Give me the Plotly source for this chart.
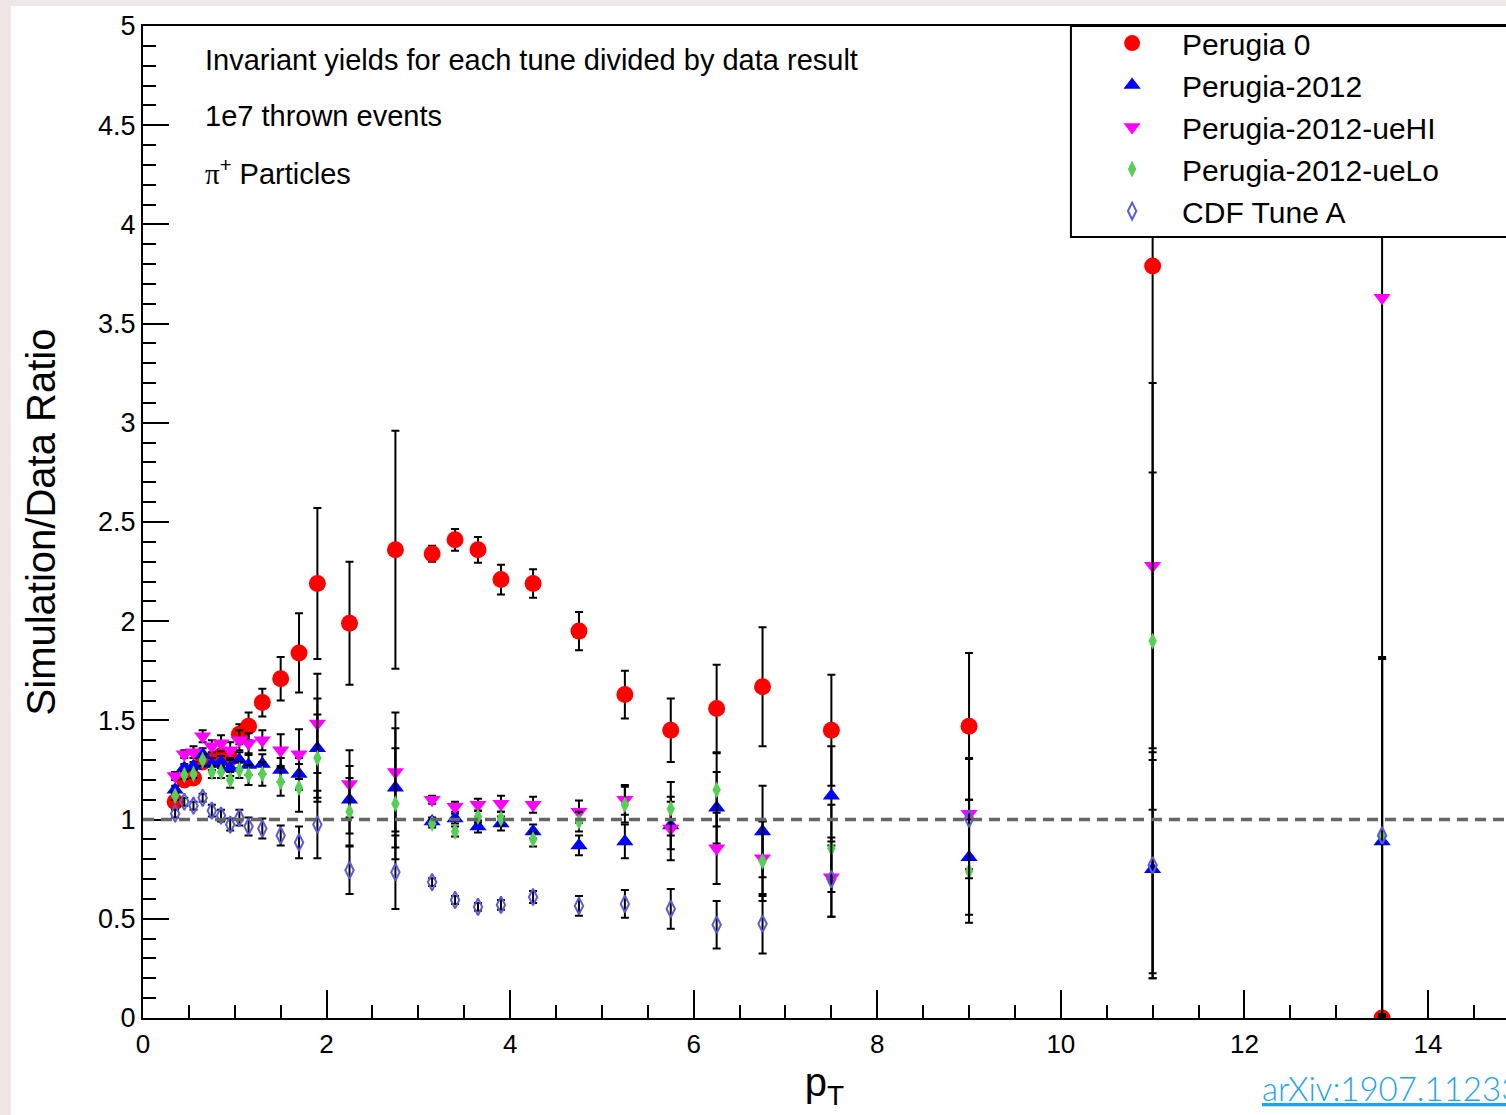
import plotly.graph_objects as go

# ---------------- data ----------------
pt = [0.35, 0.45, 0.55, 0.65, 0.75, 0.85, 0.95, 1.05, 1.15, 1.3, 1.5, 1.7, 1.9, 2.25,
      2.75, 3.15, 3.4, 3.65, 3.9, 4.25, 4.75, 5.25, 5.75, 6.25, 6.75, 7.5, 9, 11, 13.5]

perugia0 = [1.09, 1.20, 1.21, 1.29, 1.30, 1.32, 1.31, 1.43, 1.47, 1.59, 1.71, 1.84, 2.19, 1.99,
            2.36, 2.34, 2.41, 2.36, 2.21, 2.19, 1.95, 1.63, 1.45, 1.56, 1.67, 1.45, 1.47, 3.79, 0.0]
perugia0_err = [0.02, 0.02, 0.02, 0.03, 0.03, 0.03, 0.04, 0.05, 0.07, 0.07, 0.11, 0.20, 0.38, 0.31,
                0.60, 0.04, 0.055, 0.065, 0.075, 0.072, 0.097, 0.12, 0.16, 0.22, 0.30, 0.28, 0.37, 3.565, 0.0]

perugia2012 = [1.15, 1.26, 1.27, 1.33, 1.28, 1.29, 1.26, 1.30, 1.275, 1.28, 1.25, 1.23, 1.36, 1.10,
               1.16, 0.99, 1.005, 0.965, 0.98, 0.94, 0.87, 0.89, 0.97, 1.06, 0.94, 1.12, 0.81, 0.75, 0.89]
perugia2012_err = [0.02, 0.02, 0.02, 0.03, 0.03, 0.03, 0.04, 0.04, 0.05, 0.05, 0.06, 0.08, 0.25, 0.17,
                   0.30, 0.02, 0.025, 0.03, 0.035, 0.035, 0.05, 0.085, 0.12, 0.18, 0.23, 0.25, 0.29, 0.55, 0.92]

uehi = [1.22, 1.33, 1.34, 1.42, 1.37, 1.385, 1.35, 1.40, 1.385, 1.40, 1.35, 1.33, 1.485, 1.18,
        1.24, 1.10, 1.065, 1.075, 1.08, 1.075, 1.04, 1.10, 0.955, 0.855, 0.805, 0.71, 1.03, 2.28, 3.63]
uehi_err = [0.02, 0.02, 0.03, 0.03, 0.03, 0.04, 0.04, 0.05, 0.05, 0.05, 0.08, 0.125, 0.25, 0.17,
            0.30, 0.02, 0.025, 0.03, 0.04, 0.04, 0.056, 0.075, 0.16, 0.18, 0.19, 0.20, 0.28, 0.92, 3.63]

uelo = [1.12, 1.225, 1.23, 1.30, 1.24, 1.24, 1.20, 1.25, 1.225, 1.23, 1.19, 1.16, 1.31, 1.04,
        1.08, 0.98, 0.94, 1.015, 1.005, 0.90, 0.99, 1.075, 1.055, 1.15, 0.79, 0.855, 0.74, 1.90, 0.91]
uelo_err = [0.02, 0.02, 0.02, 0.03, 0.03, 0.03, 0.04, 0.04, 0.05, 0.06, 0.07, 0.12, 0.22, 0.17,
            0.28, 0.02, 0.025, 0.03, 0.035, 0.035, 0.05, 0.09, 0.135, 0.185, 0.20, 0.22, 0.26, 0.85, 0.90]

cdfa = [1.03, 1.09, 1.07, 1.11, 1.045, 1.02, 0.975, 1.01, 0.965, 0.955, 0.92, 0.885, 0.975, 0.745,
        0.735, 0.685, 0.595, 0.56, 0.57, 0.61, 0.565, 0.575, 0.55, 0.47, 0.475, 0.70, 1.005, 0.77, 0.92]
cdfa_err = [0.02, 0.02, 0.02, 0.02, 0.03, 0.03, 0.03, 0.04, 0.045, 0.05, 0.05, 0.08, 0.17, 0.12,
            0.185, 0.02, 0.02, 0.02, 0.025, 0.03, 0.05, 0.07, 0.10, 0.12, 0.15, 0.19, 0.30, 0.57, 0.90]

series_names = ["Perugia 0", "Perugia-2012", "Perugia-2012-ueHI", "Perugia-2012-ueLo", "CDF Tune A"]
info_lines = ["Invariant yields for each tune divided by data result",
              "1e7 thrown events",
              "<span style='font-family:Liberation Serif'>π</span><sup>+</sup> Particles"]

# ---------------- figure ----------------
FONT = "Liberation Sans, Arial, Helvetica, sans-serif"
PAGE = "#efe6e5"

styles = [
    dict(symbol="circle", size=17, color="#ff0000"),
    dict(symbol="triangle-up", size=15, color="#0000ff"),
    dict(symbol="triangle-down", size=15, color="#ff00ff"),
    dict(symbol="diamond-tall", size=12, color="#55cf55"),
    dict(symbol="diamond-tall-open", size=12, color="#5b5bd6", line=dict(width=2, color="#5b5bd6")),
]
values = [perugia0, perugia2012, uehi, uelo, cdfa]
errors = [perugia0_err, perugia2012_err, uehi_err, uelo_err, cdfa_err]

fig = go.Figure()
for name, y, e, st in zip(series_names, values, errors, styles):
    mk = dict(symbol=st["symbol"], size=st["size"], color=st["color"])
    mk["line"] = st.get("line", dict(width=0))
    fig.add_trace(go.Scatter(
        x=pt, y=y, mode="markers", name=name, marker=mk,
        error_y=dict(type="data", array=e, visible=True, color="black", thickness=2, width=4),
    ))

# reference line at ratio = 1
fig.add_shape(type="line", xref="paper", yref="y", x0=0, x1=1, y0=1, y1=1,
              line=dict(color="#666666", width=3.5, dash="11px,7px"), layer="above")

# white card on light page
fig.add_shape(type="rect", xref="paper", yref="paper", x0=-0.0968, x1=1.2, y0=-0.2, y1=1.0202,
              fillcolor="white", line=dict(width=0), layer="below")

# legend box (extends past the right edge, as in the reference)
fig.add_shape(type="rect", xref="paper", yref="paper", x0=0.6808, x1=1.1, y0=0.7873, y1=1.0,
              fillcolor="white", line=dict(width=2, color="black"), layer="above")

for i, txt in enumerate(info_lines):
    fig.add_annotation(xref="paper", yref="paper", x=0.044, y=[0.9657, 0.9093, 0.8528][i],
                       xanchor="left", yanchor="middle", text=txt, showarrow=False,
                       font=dict(family=FONT, size=29, color="black"))

fig.add_annotation(xref="paper", yref="paper", x=0.8195, y=-0.071, xanchor="left", yanchor="middle",
                   text="arXiv:1907.11233", showarrow=False,
                   font=dict(family="Lato, Open Sans, sans-serif", size=33, color="#1fa3ef",
                             weight=300, lineposition="under"))

fig.update_layout(
    width=1506, height=1115,
    margin=dict(l=143, r=0, t=26, b=97, autoexpand=False),
    paper_bgcolor=PAGE, plot_bgcolor="white",
    font=dict(family=FONT, color="black"),
    legend=dict(x=0.689, y=1.009, xanchor="left", yanchor="top",
                bgcolor="rgba(0,0,0,0)", borderwidth=0,
                font=dict(family=FONT, size=30, color="black"),
                itemwidth=90, tracegroupgap=0),
    showlegend=True,
)

fig.update_xaxes(
    range=[0, 14.85], tick0=0, dtick=2, ticks="inside", ticklen=28, tickwidth=2, tickcolor="black",
    minor=dict(dtick=0.5, ticks="inside", ticklen=13, tickwidth=2, tickcolor="black"),
    showgrid=False, zeroline=False, showline=True, linecolor="black", linewidth=2, mirror=True,
    tickfont=dict(family=FONT, size=26, color="black"), ticklabelstandoff=2,
    title=dict(text="p<sub>T</sub>", font=dict(family=FONT, size=40, color="black"), standoff=10),
)
fig.update_yaxes(
    range=[0, 5], tick0=0, dtick=0.5, ticks="inside", ticklen=26, tickwidth=2, tickcolor="black",
    minor=dict(dtick=0.1, ticks="inside", ticklen=13, tickwidth=2, tickcolor="black"),
    showgrid=False, zeroline=False, showline=True, linecolor="black", linewidth=2,
    tickfont=dict(family=FONT, size=27, color="black"), ticklabelstandoff=0,
    title=dict(text="Simulation/Data Ratio", font=dict(family=FONT, size=40, color="black"), standoff=30),
)

fig.write_html("out.html", config={"displayModeBar": False},
               post_script="document.body.style.margin='0px';document.body.style.backgroundColor='%s';" % PAGE)
